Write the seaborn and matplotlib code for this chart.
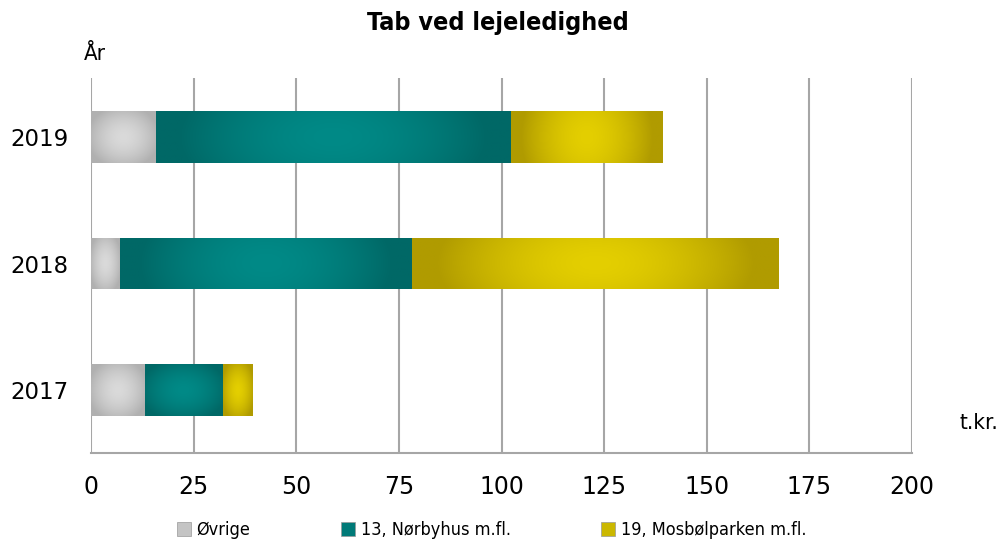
import numpy as np
import pandas as pd
import matplotlib
matplotlib.use("Agg")
import matplotlib.pyplot as plt
import matplotlib.patches as mpatches
import seaborn as sns

years = ["2019", "2018", "2017"]
ovrige = [15.7, 7.0, 13.0]
norbyhus = [86.5, 71.1, 19.1]
mosbol = [37.0, 89.3, 7.2]
series_names = ["Øvrige", "13, Nørbyhus m.fl.", "19, Mosbølparken m.fl."]
xticks = [0, 25, 50, 75, 100, 125, 150, 175, 200]

# (dark edge colour, light centre colour) per series
shades = [("#b0b0b0", "#dadada"), ("#006866", "#008a87"), ("#b09b00", "#e4cf00")]
mid_colors = ["#c4c4c4", "#007a78", "#cbb800"]

sns.set_style("white")
plt.rcParams["font.family"] = ["DejaVu Sans"]
plt.rcParams["text.color"] = "black"
plt.rcParams["xtick.color"] = "black"
plt.rcParams["ytick.color"] = "black"

fig = plt.figure(figsize=(10.07, 5.44), dpi=100)
ax = fig.add_axes([0.0904, 0.1673, 0.8153, 0.6893])

df = pd.DataFrame({"year": years, "a": ovrige, "b": norbyhus, "c": mosbol})
df["zero"] = 0.0
df["ab"] = df["a"] + df["b"]
df["abc"] = df["ab"] + df["c"]

# draw cumulative totals, widest first, remember each series' patches
groups = []
for col, start, shade in zip(["abc", "ab", "a"], ["ab", "a", "zero"], shades[::-1]):
    n0 = len(ax.patches)
    sns.barplot(data=df, x=col, y="year", order=years, orient="h",
                color=shade[1], width=0.41, ax=ax, linewidth=0)
    groups.append((ax.patches[n0:], df[start].tolist(), shade))

def gradient(dark, light, vweight):
    xs = np.linspace(-1, 1, 200)
    ys = np.linspace(-1, 1, 60)
    X, Y = np.meshgrid(xs, ys)
    r = np.sqrt(X ** 2 + (vweight * Y) ** 2)
    r = np.clip(r / np.sqrt(1 + vweight ** 2) * 1.2, 0, 1)
    v = 1 - r ** 1.7
    d = np.array(matplotlib.colors.to_rgb(dark))
    l = np.array(matplotlib.colors.to_rgb(light))
    return d + (l - d) * v[..., None]

# gradient fill for each visible segment, clipped to the bar
for patches, starts, (dark, light) in groups:
    for p, s in zip(patches, starts):
        x1 = p.get_x() + p.get_width()
        y0, h = p.get_y(), p.get_height()
        vw = 0.9 if (x1 - s) < 20 else 0.3
        im = ax.imshow(gradient(dark, light, vw), extent=[s, x1, y0 + h, y0],
                       aspect="auto", interpolation="bilinear",
                       zorder=p.get_zorder() + 0.1)
        im.set_clip_path(p)

ax.set_xlim(0, 200)
ax.set_ylim(2.5, -0.47)
ax.set_xticks(xticks)
ax.set_xticklabels([str(t) for t in xticks], fontsize=17)
ax.tick_params(axis="y", length=0, pad=16, labelsize=16.5)
ax.tick_params(axis="x", length=7, width=1.4, color="#a6a6a6", pad=9)
ax.set_axisbelow(True)
ax.grid(axis="x", color="#a6a6a6", linewidth=1.5)
ax.grid(axis="y", visible=False)
for s in ["top", "right", "left"]:
    ax.spines[s].set_visible(False)
ax.spines["bottom"].set_color("#a6a6a6")
ax.spines["bottom"].set_linewidth(1.5)
ax.set_xlabel("")
ax.set_ylabel("")

fig.text(0.494, 0.958, "Tab ved lejeledighed", ha="center", va="center",
         fontsize=18, fontweight="semibold", fontstretch="condensed")
fig.text(0.083, 0.90, "År", ha="left", va="center", fontsize=16,
         fontstretch="condensed")
fig.text(0.953, 0.223, "t.kr.", ha="left", va="center", fontsize=16,
         fontstretch="condensed")

handles = [mpatches.Patch(facecolor=c, edgecolor="#999999", linewidth=0.5)
           for c in mid_colors]
fig.legend(handles, series_names, loc="center", bbox_to_anchor=(0.488, 0.025),
           ncol=3, frameon=False, handlelength=0.8,
           handleheight=0.8, handletextpad=0.3, columnspacing=5.0,
           prop={"size": 13, "stretch": "condensed"})

fig.savefig("out.png", dpi=100)
